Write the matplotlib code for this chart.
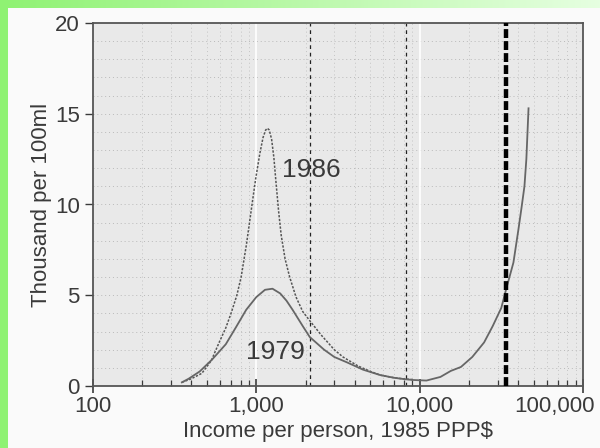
#!/usr/bin/env python3

import numpy as np
import matplotlib.pyplot as plt
from matplotlib.transforms import ScaledTranslation
from matplotlib.ticker import FixedLocator, LogLocator, NullFormatter

plt.rcParams['font.family'] = ['Liberation Sans', 'DejaVu Sans']

# curve values (income in 1985 PPP$, thousand per 100ml)
income_1986 = [350, 400, 464, 530, 592, 650, 700, 760, 807, 870, 931, 990, 1050, 1100,
               1140, 1169, 1200, 1240, 1280, 1320, 1370, 1420, 1500, 1600, 1750, 1924,
               2123, 2500, 3000, 3390, 4200, 5000, 5740, 7000, 8200, 9190]
rate_1986 = [0.2, 0.4, 0.7, 1.4, 2.4, 3.2, 4.0, 5.0, 6.0, 7.8, 9.7, 11.4, 12.8, 13.7,
             14.1, 14.2, 14.1, 13.6, 12.6, 11.2, 9.6, 8.3, 7.0, 6.0, 4.9, 4.1,
             3.6, 2.8, 2.0, 1.6, 1.1, 0.8, 0.6, 0.45, 0.38, 0.35]

income_1979 = [350, 385, 450, 535, 650, 753, 867, 1000, 1130, 1256, 1400, 1530, 1667,
               1924, 2123, 2600, 3000, 3594, 4500, 5740, 7000, 8200, 9190, 11000,
               13400, 15500, 17900, 21000, 24800, 28000, 31600, 34000, 37500, 40200,
               42000, 43800, 45000, 46400]
rate_1979 = [0.2, 0.4, 0.8, 1.45, 2.3, 3.26, 4.2, 4.9, 5.3, 5.36, 5.1, 4.7, 4.2,
             3.3, 2.7, 2.0, 1.6, 1.3, 0.9, 0.6, 0.45, 0.37, 0.33, 0.3,
             0.5, 0.83, 1.05, 1.6, 2.4, 3.3, 4.3, 5.4, 6.8, 8.6,
             9.8, 11.0, 12.5, 15.3]

thin_lines = [2123, 8200]
thick_line = 34000

xticks = [100, 1000, 10000, 100000]
xtick_labels = ['100', '1,000', '10,000', '100,000']
yticks = [0, 5, 10, 15, 20]

ink = '#3a3a3a'

fig = plt.figure(figsize=(6, 4.48), dpi=100)

# green frame on the left and top
bg = fig.add_axes([0, 0, 1, 1], zorder=-10)
bg.set_xlim(0, 1)
bg.set_ylim(0, 1)
bg.axis('off')
grad = np.linspace(0, 1, 256).reshape(1, -1)
start = np.array([0.56, 0.95, 0.45])
end = np.array([0.90, 1.0, 0.88])
cols = start + (end - start) * grad[..., None]
bg.imshow(cols, extent=[0, 1, 1 - 8 / 448, 1], aspect='auto')
bg.add_patch(plt.Rectangle((0, 0), 8 / 600, 1, color=start, lw=0))
bg.add_patch(plt.Rectangle((8 / 600, 0), 1, 1 - 8 / 448, color='#fafafa', lw=0, zorder=-1))

ax = fig.add_axes([93 / 600, 1 - 386 / 448, 490 / 600, 363 / 448])
ax.set_facecolor('#e9e9e9')
ax.set_xscale('log')
ax.set_xlim(100, 100000)
ax.set_ylim(0, 20)

# dotted background grid
for v in np.arange(1, 20, 1):
    ax.axhline(v, color='#b9b9b9', lw=0.7, ls=(0, (1, 3)), zorder=0)
for d in [100, 1000, 10000]:
    for m in range(2, 10):
        ax.axvline(d * m, color='#c4c4c4', lw=0.7, ls=(0, (1, 3)), zorder=0)
for v in [1000, 10000]:
    ax.axvline(v, color='white', lw=1.2, zorder=0)

ax.plot(income_1986, rate_1986, color='#555555', lw=1.1, ls=(0, (1.5, 1)), zorder=3)
ax.plot(income_1979, rate_1979, color='#666666', lw=1.3, zorder=3)

for v in thin_lines:
    ax.axvline(v, color='#222222', lw=0.9, ls=(0, (3, 3)), zorder=2)
ax.axvline(thick_line, color='black', lw=3.2, ls=(0, (2, 0.7)), zorder=4)

ax.text(1440, 11.9, '1986', fontsize=19, color=ink, va='center', ha='left')
ax.text(860, 1.9, '1979', fontsize=19, color=ink, va='center', ha='left')

ax.xaxis.set_major_locator(FixedLocator(xticks))
ax.set_xticklabels(xtick_labels)
ax.xaxis.set_minor_locator(LogLocator(base=10, subs=np.arange(2, 10)))
ax.xaxis.set_minor_formatter(NullFormatter())
ax.set_yticks(yticks)

ax.tick_params(axis='x', which='major', direction='inout', length=10, width=1.2,
               colors=ink, labelsize=16, pad=2)
ax.tick_params(axis='x', which='minor', direction='in', length=4, width=0.9, colors=ink)
ax.tick_params(axis='y', direction='out', length=6, width=1, colors=ink, labelsize=16)

# last label sits against the picture edge, shifted left
last = ax.get_xticklabels()[-1]
last.set_transform(last.get_transform() + ScaledTranslation(-0.28, 0, fig.dpi_scale_trans))

for s in ax.spines.values():
    s.set_color('#555555')
    s.set_linewidth(1.3)

ax.set_xlabel('Income per person, 1985 PPP$', fontsize=16, color=ink, labelpad=3)
ax.set_ylabel('Thousand per 100ml', fontsize=16, color=ink, labelpad=2)

plt.savefig('out.png', dpi=100)
